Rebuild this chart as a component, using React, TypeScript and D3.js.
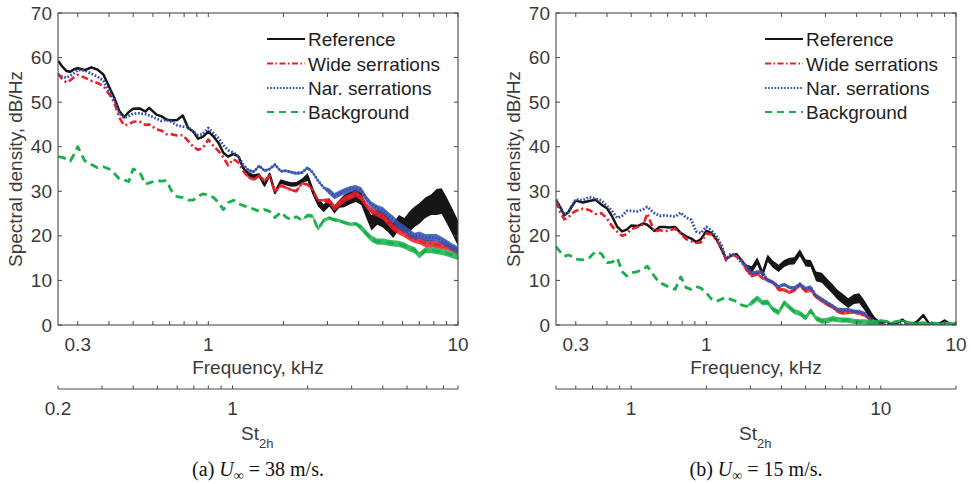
import React from "react";
import * as d3 from "d3";

// Frequency grid (kHz)
const freqKHz = [
  0.25, 0.26, 0.27, 0.28, 0.29, 0.3, 0.32, 0.34, 0.36, 0.38,
  0.4, 0.42, 0.44, 0.46, 0.48, 0.5, 0.53, 0.56, 0.58, 0.62,
  0.65, 0.68, 0.71, 0.75, 0.79, 0.83, 0.87, 0.91, 0.95, 1.0,
  1.05, 1.1, 1.15, 1.2, 1.26, 1.32, 1.38, 1.45, 1.52, 1.6,
  1.68, 1.76, 1.85, 1.95, 2.05, 2.15, 2.25, 2.37, 2.5, 2.62,
  2.75, 2.9, 3.05, 3.2, 3.35, 3.5, 3.7, 3.9, 4.1, 4.3,
  4.5, 4.75, 5.0, 5.25, 5.5, 5.8, 6.1, 6.4, 6.7, 7.0,
  7.4, 7.8, 8.2, 8.6, 9.0, 9.5, 10.0,
];

// (a) U = 38 m/s, dB/Hz
const refA = [
  59.3, 58.0, 57.0, 56.8, 57.4, 57.6, 57.2, 57.8, 57.3, 56.2,
  53.5, 51.0, 48.0, 46.6, 47.8, 48.5, 48.6, 47.9, 48.7, 47.2,
  46.8, 46.1, 45.9, 46.0, 47.0, 44.2, 43.4, 41.8, 42.2, 43.4,
  42.3, 40.8, 38.6, 37.8, 38.4, 37.8, 35.2, 33.8, 33.3, 33.6,
  31.4, 33.8, 29.7, 32.2, 31.8, 31.5, 31.6, 32.3, 33.2, 30.0,
  27.5, 26.2, 27.5, 25.9, 27.2, 27.8, 28.5, 29.0, 28.3, 25.3,
  22.9, 24.2, 23.6, 22.5, 21.2, 23.0, 22.3, 23.2, 24.3, 25.0,
  26.3, 27.0, 27.6, 27.8, 25.8, 23.2, 20.6,
];
const wideA = [
  56.4, 55.2, 54.4, 54.9, 55.6, 56.1, 55.5, 54.8, 54.3, 53.6,
  51.9, 50.0, 46.5, 44.8, 45.0, 45.6, 45.7, 44.9, 45.0, 43.9,
  43.6, 42.8, 42.8, 42.5, 42.6, 41.3, 40.0, 39.3, 39.7, 41.6,
  40.1, 39.0, 37.6, 35.8, 37.2, 36.5, 34.5, 33.1, 32.6, 33.5,
  32.4, 33.5, 29.8, 31.3, 30.8, 30.3, 30.0, 31.8, 31.5, 30.4,
  27.9, 28.0, 27.8, 26.3, 27.3, 28.2, 28.8, 29.4, 28.5, 26.8,
  25.6, 25.0, 24.4, 23.1, 21.9, 21.1, 20.5, 19.7, 19.2, 18.9,
  18.3, 18.3, 18.0, 17.8, 17.6, 17.1, 16.5,
];
const narA = [
  56.2, 55.7, 55.5, 55.9, 56.5, 57.2, 57.1, 56.4, 55.7, 54.8,
  52.3, 50.5, 47.5, 46.5, 46.9, 47.4, 47.5, 47.3, 47.0, 46.3,
  45.8, 46.0, 45.6, 44.8, 44.5, 44.4, 43.4, 42.6, 42.8, 44.2,
  43.0, 41.9, 40.3, 39.2, 38.7, 37.8, 36.0, 34.7, 34.4, 35.7,
  34.6, 35.0, 36.0, 34.5, 34.6, 34.3, 34.0, 34.2, 35.3, 34.2,
  32.4, 30.8, 30.0, 28.9, 29.5, 30.0, 30.5, 30.7, 30.2, 28.3,
  27.0, 26.2, 25.7, 24.6, 23.7, 22.4, 21.6, 20.7, 19.9, 20.2,
  19.6, 19.6, 19.6, 19.0, 18.3, 17.5, 16.8,
];
const bgA = [
  37.8, 37.6, 37.3, 36.8, 38.3, 40.0, 36.8, 36.0, 35.3, 35.5,
  35.0, 34.0, 32.8, 32.5, 32.2, 35.0, 34.4, 31.6, 31.9, 32.4,
  32.3, 32.4, 30.2, 28.8, 28.6, 28.0, 28.0, 28.9, 29.4, 29.2,
  28.6, 27.4, 25.9, 27.4, 28.0, 27.2, 26.8, 26.4, 26.0, 25.5,
  25.9, 25.5, 24.1, 25.3, 24.2, 23.6, 24.3, 23.5, 24.6, 24.4,
  21.5, 23.5, 24.0, 23.6, 23.4, 23.0, 22.6, 22.7, 21.8, 20.5,
  19.4, 18.7, 18.7, 18.5, 18.3, 18.2, 17.8, 17.2, 16.8, 15.6,
  16.8, 16.8, 16.6, 16.4, 16.1, 15.7, 15.3,
];

// (b) U = 15 m/s, dB/Hz
const refB = [
  28.1, 26.4, 24.6, 25.3, 26.7, 27.9, 27.5, 27.8, 28.1, 27.0,
  26.2, 24.3, 22.0, 21.0, 21.4, 22.3, 22.2, 22.8, 22.5, 21.1,
  22.0, 22.0, 21.9, 22.0, 20.6, 19.9, 19.4, 18.6, 19.2, 21.1,
  20.6, 19.2, 17.0, 14.8, 15.6, 15.9, 14.6, 12.8, 12.4, 14.4,
  11.5, 15.0, 13.6, 12.7, 13.8, 14.3, 14.4, 16.2, 13.9, 13.8,
  10.9, 10.6, 9.3, 8.1, 6.8, 6.0, 4.9, 5.8, 6.0, 4.4,
  2.6, 1.3, 0.4, 0.8, 0.2, 0.4, 1.2, 0.3, 0.2, 0.8,
  2.2, 0.3, 0.2, 0.3, 1.0, 0.2, 0.3,
];
const wideB = [
  27.7, 25.3, 23.7, 24.1, 25.1, 25.6, 26.1, 25.8, 24.9, 25.1,
  23.9, 22.1, 20.9, 20.0, 20.4, 21.5, 22.0, 22.6, 25.0, 20.9,
  21.3, 21.0, 21.2, 21.6, 20.5, 19.3, 18.8, 18.4, 18.5, 20.5,
  20.3, 19.0, 17.5, 14.5, 15.8, 15.4, 14.6, 12.3, 11.0, 11.5,
  10.5, 10.2, 9.5, 7.9, 7.9, 7.3, 7.8, 8.9, 7.6, 7.8,
  6.3, 5.4, 4.6, 4.0, 3.1, 2.7, 2.8, 2.9, 2.6, 2.2,
  1.3, 0.4, 0.1, 0, 0, 0, 0, 0, 0, 0,
  0, 0, 0, 0, 0, 0, 0,
];
const narB = [
  28.1, 26.4, 24.8, 25.3, 26.8, 28.2, 28.0, 28.7, 28.3, 28.0,
  26.7, 25.5, 24.0, 24.5, 25.6, 25.6, 25.5, 26.0, 26.5, 25.1,
  24.5, 24.6, 24.5, 24.3, 25.2, 24.1, 23.6, 21.0, 20.6, 22.0,
  21.2, 19.8, 17.9, 14.8, 16.1, 15.4, 14.0, 13.2, 11.6, 11.9,
  11.8, 10.0, 9.6, 8.6, 9.1, 8.4, 8.3, 9.2, 8.2, 8.5,
  6.6, 5.8, 5.0, 4.3, 3.5, 3.4, 3.4, 3.1, 3.0, 2.6,
  1.7, 0.6, 0.1, 0, 0, 0, 0, 0, 0, 0,
  0, 0, 0, 0, 0, 0, 0,
];
const bgB = [
  17.6, 16.4, 15.4, 15.7, 15.4, 14.8, 14.6, 15.1, 16.5, 16.0,
  14.0, 14.1, 15.0, 12.0, 11.0, 11.7, 12.0, 12.5, 13.2, 10.9,
  9.5, 9.0, 8.5, 8.0, 10.8, 8.4, 8.0, 8.6, 8.3, 7.2,
  5.8, 5.3, 5.8, 6.2, 5.7, 5.3, 4.5, 4.2, 5.0, 6.0,
  5.0, 5.1, 3.5, 2.8, 5.0, 4.0, 3.0, 2.6, 1.6, 3.2,
  1.5, 0.9, 1.0, 1.4, 1.2, 1.1, 1.1, 0.8, 0.7, 0.7,
  0.5, 0.5, 1.0, 0.8, 0.5, 0.8, 1.0, 0.6, 0.4, 0.4,
  0.5, 0.3, 0.4, 0.3, 0.4, 0.3, 0.2,
];

// Noise-band half-widths (dB), as [from kHz, half-width]
const refSpreadA = [[0.25, 0.2], [1.45, 0.5], [2.5, 0.9], [3.5, 1.4], [4.5, 1.7], [6.2, 2.3], [8, 2.9]];
const wideSpreadA = [[0.25, 0], [1.4, 0.3], [3, 0.7], [5, 0.8]];
const narSpreadA = [[0.25, 0], [1.4, 0.3], [3, 0.7], [5, 0.8]];
const bgSpreadA = [[0.25, 0], [2.5, 0.4], [4, 0.7]];
const refSpreadB = [[0.25, 0.1], [1.4, 0.8], [2.7, 1.1], [4.6, 0.2]];
const wideSpreadB = [[0.25, 0], [1.4, 0.4], [4.5, 0.1]];
const narSpreadB = [[0.25, 0], [1.4, 0.4], [4.5, 0.1]];
const bgSpreadB = [[0.25, 0], [1.5, 0.6], [5, 0.2]];

const seriesLabels = ["Reference", "Wide serrations", "Nar. serrations", "Background"];
const seriesColors = ["#161616", "#e8202a", "#3450ae", "#19b04b"];
const seriesDashes = ["none", "7 3 2 3", "1.7 1.7", "8 5"];
const legendDashes = ["none", "6 2.5 1.5 2.5", "1.6 1.6", "7 5"];
const seriesWidths = [2.5, 2.6, 2.8, 2.8];
const legendWidths = [2.2, 2.2, 2.2, 2.2];

const freqTicks = [0.3, 0.4, 0.5, 0.6, 0.7, 0.8, 0.9, 1, 2, 3, 4, 5, 6, 7, 8, 9, 10];
const freqTickLabels = [0.3, 1, 10];
const yTicks = [0, 10, 20, 30, 40, 50, 60, 70];
const stTicksA = [0.2, 0.3, 0.4, 0.5, 0.6, 0.7, 0.8, 0.9, 1, 2, 3, 4, 5, 6, 7, 8];
const stLabelsA = [0.2, 1];
const stTicksB = [0.5, 0.6, 0.7, 0.8, 0.9, 1, 2, 3, 4, 5, 6, 7, 8, 9, 10, 20];
const stLabelsB = [1, 10];

const SANS = "'Liberation Sans', Arial, Helvetica, sans-serif";
const SERIF = "'Liberation Serif', 'Times New Roman', serif";
const AX = "#4a4a4a";
const TXT = "#3a3a3a";

function spreadAt(table: number[][], f: number) {
  let s = 0;
  for (const [f0, w] of table) if (f >= f0 - 1e-9) s = w;
  return s;
}

type PanelProps = {
  left: number;
  values: number[][];
  spreads: number[][][];
  stDomain: [number, number];
  stTicks: number[];
  stLabels: number[];
  letter: string;
  speed: string;
  clipId: string;
};

function Panel({ left, values, spreads, stDomain, stTicks, stLabels, letter, speed, clipId }: PanelProps) {
  const top = 13, bottom = 325, width = 400;
  const x = d3.scaleLog().domain([0.25, 10]).range([left, left + width]);
  const y = d3.scaleLinear().domain([0, 70]).range([bottom, top]);
  const xs = d3.scaleLog().domain(stDomain).range([left, left + width]);
  const line = d3.line<number>().x((_, i) => x(freqKHz[i])).y((d) => y(d));
  const stY = 389;
  const legX = left + 209;
  const legY = [39, 63.5, 88, 112];
  const cx = left + width / 2;
  return (
    <g>
      <defs>
        <clipPath id={clipId}>
          <rect x={left} y={top} width={width} height={bottom - top} />
        </clipPath>
      </defs>
      <g clipPath={`url(#${clipId})`}>
        {values.map((vals, k) => {
          const area = d3
            .area<number>()
            .x((_, i) => x(freqKHz[i]))
            .y0((d, i) => y(d - spreadAt(spreads[k], freqKHz[i])))
            .y1((d, i) => y(d + spreadAt(spreads[k], freqKHz[i])));
          return (
            <g key={k}>
              <path d={area(vals) || ""} fill={seriesColors[k]} opacity={k === 0 ? 1 : 0.85} />
              <path
                d={line(vals) || ""}
                fill="none"
                stroke={seriesColors[k]}
                strokeWidth={seriesWidths[k]}
                strokeDasharray={seriesDashes[k]}
                strokeLinejoin="round"
              />
            </g>
          );
        })}
      </g>
      {/* box */}
      <rect x={left} y={top} width={width} height={bottom - top} fill="none" stroke={AX} strokeWidth={1.1} />
      {/* y ticks */}
      {yTicks.map((t) => (
        <g key={t}>
          <line x1={left} x2={left + 4} y1={y(t)} y2={y(t)} stroke={AX} />
          <line x1={left + width - 4} x2={left + width} y1={y(t)} y2={y(t)} stroke={AX} />
          <text x={left - 6} y={y(t) + 6.5} textAnchor="end" fontFamily={SANS} fontSize={19} fill={TXT}>
            {t}
          </text>
        </g>
      ))}
      {/* x ticks */}
      {freqTicks.map((t) => (
        <g key={t}>
          <line x1={x(t)} x2={x(t)} y1={bottom} y2={bottom - 4} stroke={AX} />
          <line x1={x(t)} x2={x(t)} y1={top} y2={top + 4} stroke={AX} />
        </g>
      ))}
      {freqTickLabels.map((t) => (
        <text key={t} x={x(t)} y={351} textAnchor="middle" fontFamily={SANS} fontSize={19} fill={TXT}>
          {t}
        </text>
      ))}
      <text x={cx} y={374} textAnchor="middle" fontFamily={SANS} fontSize={19} fill={TXT}>
        Frequency, kHz
      </text>
      <text
        transform={`translate(${left - 36},${(top + bottom) / 2}) rotate(-90)`}
        textAnchor="middle"
        fontFamily={SANS}
        fontSize={19}
        fill={TXT}
      >
        Spectral density, dB/Hz
      </text>
      {/* Strouhal axis */}
      <line x1={left} x2={left + width} y1={stY} y2={stY} stroke={AX} strokeWidth={1.1} />
      {stTicks.map((t) => (
        <line key={t} x1={xs(t)} x2={xs(t)} y1={stY} y2={stY - 3.5} stroke={AX} />
      ))}
      {stLabels.map((t) => (
        <text key={t} x={xs(t)} y={415} textAnchor="middle" fontFamily={SANS} fontSize={19} fill={TXT}>
          {t}
        </text>
      ))}
      <text x={cx - 17} y={440} fontFamily={SANS} fontSize={19} fill={TXT}>
        St
        <tspan fontSize={13} dy={8}>
          2h
        </tspan>
      </text>
      {/* legend */}
      {seriesLabels.map((s, k) => (
        <g key={s}>
          <line
            x1={legX}
            x2={legX + 38}
            y1={legY[k]}
            y2={legY[k]}
            stroke={seriesColors[k]}
            strokeWidth={legendWidths[k]}
            strokeDasharray={legendDashes[k]}
          />
          <text x={legX + 41} y={legY[k] + 7} fontFamily={SANS} fontSize={19} fill="#1e1e1e">
            {s}
          </text>
        </g>
      ))}
      {/* caption */}
      <text x={cx} y={476} textAnchor="middle" fontFamily={SERIF} fontSize={20} fill="#111">
        ({letter}){" "}
        <tspan fontStyle="italic">U</tspan>
        <tspan fontSize={14} dy={4}>
          ∞
        </tspan>
        <tspan dy={-4}>{" = " + speed + " m/s."}</tspan>
      </text>
    </g>
  );
}

export default function App() {
  return (
    <svg
      width={971}
      height={484}
      style={{ position: "absolute", left: 0, top: 0, background: "#fff" }}
    >
      <rect x={0} y={0} width={971} height={484} fill="#fff" />
      <Panel
        left={58}
        values={[refA, wideA, narA, bgA]}
        spreads={[refSpreadA, wideSpreadA, narSpreadA, bgSpreadA]}
        stDomain={[0.2, 8]}
        stTicks={stTicksA}
        stLabels={stLabelsA}
        letter="a"
        speed="38"
        clipId="clipA"
      />
      <Panel
        left={556}
        values={[refB, wideB, narB, bgB]}
        spreads={[refSpreadB, wideSpreadB, narSpreadB, bgSpreadB]}
        stDomain={[0.5, 20]}
        stTicks={stTicksB}
        stLabels={stLabelsB}
        letter="b"
        speed="15"
        clipId="clipB"
      />
    </svg>
  );
}
